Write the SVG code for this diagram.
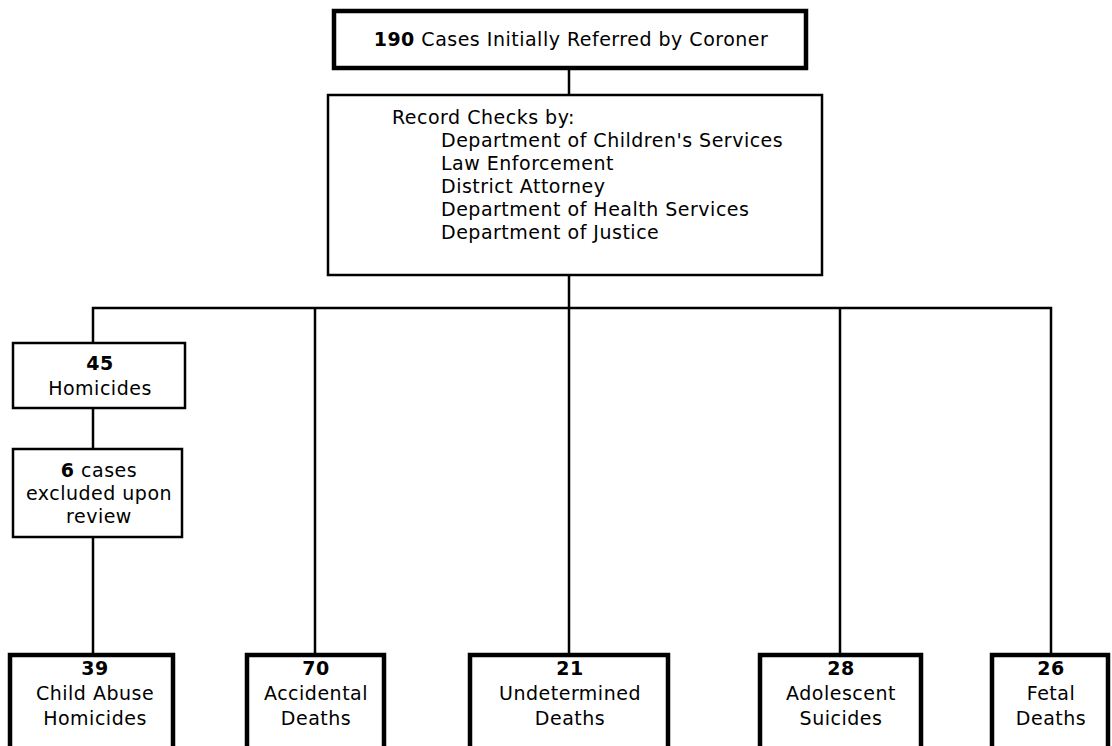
<svg xmlns="http://www.w3.org/2000/svg" width="1112" height="746" viewBox="0 0 1112 746">
<style>
text{font-family:"DejaVu Sans","Liberation Sans",Arial,sans-serif;font-size:19px;letter-spacing:0.5px;fill:#000}
.c{text-anchor:middle}
.b{font-weight:bold}
.thin{fill:#fff;stroke:#000;stroke-width:2.5}
.thick{fill:#fff;stroke:#000;stroke-width:4.5}
.ln{fill:none;stroke:#000;stroke-width:2.5}
</style>
<rect width="1112" height="746" fill="#fff"/>
<g id="connectors">
<path class="ln" d="M569,68V95"/>
<path class="ln" d="M569,275V655"/>
<path class="ln" d="M93,343V308H1051V655"/>
<path class="ln" d="M315,308V655"/>
<path class="ln" d="M840,308V655"/>
<path class="ln" d="M93,408V449"/>
<path class="ln" d="M93,537V655"/>
</g>
<g id="top">
<rect class="thick" x="334" y="11" width="472" height="57"/>
<text class="c" x="571" y="46"><tspan class="b">190</tspan> Cases Initially Referred by Coroner</text>
</g>
<g id="records">
<rect class="thin" x="328" y="95" width="494" height="180"/>
<text x="392" y="124">Record Checks by:</text>
<text x="441" y="147">Department of Children's Services</text>
<text x="441" y="170">Law Enforcement</text>
<text x="441" y="193">District Attorney</text>
<text x="441" y="216">Department of Health Services</text>
<text x="441" y="239">Department of Justice</text>
</g>
<g id="homicides">
<rect class="thin" x="13" y="343" width="172" height="65"/>
<text class="c b" x="100" y="370">45</text>
<text class="c" x="100" y="395">Homicides</text>
</g>
<g id="excluded">
<rect class="thin" x="13" y="449" width="169" height="88"/>
<text class="c" x="99" y="477"><tspan class="b">6</tspan> cases</text>
<text class="c" x="99" y="500">excluded upon</text>
<text class="c" x="99" y="523">review</text>
</g>
<g id="child-abuse">
<rect class="thick" x="10" y="655" width="163" height="100"/>
<text class="c b" x="95" y="675">39</text>
<text class="c" x="95" y="700">Child Abuse</text>
<text class="c" x="95" y="725">Homicides</text>
</g>
<g id="accidental">
<rect class="thick" x="247" y="655" width="137" height="100"/>
<text class="c b" x="316" y="675">70</text>
<text class="c" x="316" y="700">Accidental</text>
<text class="c" x="316" y="725">Deaths</text>
</g>
<g id="undetermined">
<rect class="thick" x="470" y="655" width="198" height="100"/>
<text class="c b" x="570" y="675">21</text>
<text class="c" x="570" y="700">Undetermined</text>
<text class="c" x="570" y="725">Deaths</text>
</g>
<g id="adolescent">
<rect class="thick" x="760" y="655" width="161" height="100"/>
<text class="c b" x="841" y="675">28</text>
<text class="c" x="841" y="700">Adolescent</text>
<text class="c" x="841" y="725">Suicides</text>
</g>
<g id="fetal">
<rect class="thick" x="992" y="655" width="116" height="100"/>
<text class="c b" x="1051" y="675">26</text>
<text class="c" x="1051" y="700">Fetal</text>
<text class="c" x="1051" y="725">Deaths</text>
</g>
</svg>
